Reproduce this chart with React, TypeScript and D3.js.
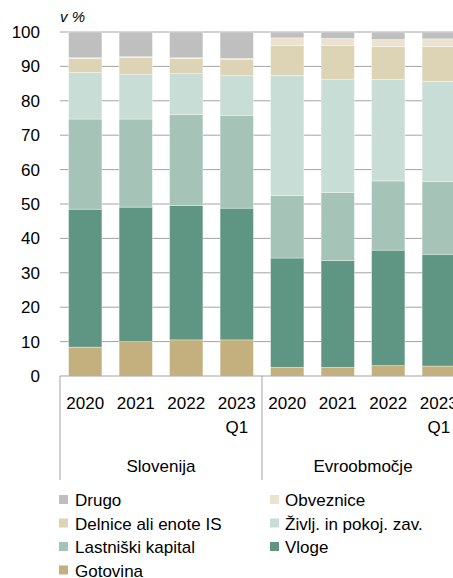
import React from "react";
import * as d3 from "d3";

const categories = ["2020", "2021", "2022", "2023", "2020", "2021", "2022", "2023"];
const subLabels = ["", "", "", "Q1", "", "", "", "Q1"];
const groups = ["Slovenija", "Evroobmočje"];
const seriesNames = ["Gotovina", "Vloge", "Lastniški kapital", "Življ. in pokoj. zav.", "Delnice ali enote IS", "Obveznice", "Drugo"];
const seriesColors = ["#c4b07e", "#5f9683", "#a6c3b8", "#c8ddd6", "#ddd3b5", "#ebe3d0", "#bfbfbf"];

const gotovina = [8.4, 10.0, 10.5, 10.5, 2.5, 2.5, 3.0, 2.9];
const vloge = [40.1, 39.1, 39.1, 38.3, 31.8, 31.1, 33.6, 32.5];
const lastniski = [26.2, 25.6, 26.4, 27.0, 18.1, 19.7, 20.1, 21.1];
const zivlj = [13.5, 12.9, 11.9, 11.5, 35.0, 33.0, 29.5, 29.2];
const delnice = [4.1, 5.0, 4.4, 4.8, 8.6, 9.7, 9.6, 10.1];
const obveznice = [0.2, 0.2, 0.2, 0.2, 2.3, 2.1, 2.0, 2.2];
const drugo = [7.5, 7.2, 7.5, 7.7, 1.7, 1.9, 2.2, 2.0];

const yTicks = [0, 10, 20, 30, 40, 50, 60, 70, 80, 90, 100];

const seriesValues = [gotovina, vloge, lastniski, zivlj, delnice, obveznice, drugo];

const legendOrder = [
  [6, 5],
  [4, 3],
  [2, 1],
  [0, -1],
];

export default function App() {
  const W = 453, H = 578;
  const x0 = 60, band = 50.5;
  const x = d3.scaleBand<number>().domain(d3.range(categories.length)).range([x0, x0 + band * categories.length]).paddingInner(0.34).paddingOuter(0.17);
  const y = d3.scaleLinear().domain([0, 100]).range([376, 32]);

  const rows = categories.map((_, i) => {
    const o: any = { i };
    seriesNames.forEach((n, s) => (o[n] = seriesValues[s][i]));
    return o;
  });
  const stack = d3.stack<any>().keys(seriesNames)(rows);
  const font = "'Liberation Sans', Arial, sans-serif";
  const bottom = y(0);
  const groupEdges = [x0, x0 + band * 4, x0 + band * 8];

  return (
    <svg width={W} height={H} style={{ position: "absolute", left: 0, top: 0 }} fontFamily={font}>
      <rect width={W} height={H} fill="#fff" />
      <text x={60} y={22} fontSize={15} fontStyle="italic" fill="#000">v %</text>
      {yTicks.map((t) => (
        <g key={t}>
          {t > 0 && <line x1={x0} x2={W} y1={y(t)} y2={y(t)} stroke="#a3a3a3" strokeWidth={1} />}
          <text x={40} y={y(t) + 6} fontSize={17} textAnchor="end" fill="#000">{t}</text>
        </g>
      ))}
      {stack.map((layer, s) => (
        <g key={s}>
          {layer.map((d, i) => (
            <rect key={i} x={x(i)} width={x.bandwidth()} y={y(d[1])} height={y(d[0]) - y(d[1])} fill={seriesColors[s]} stroke="#ffffff" strokeWidth={0.5} strokeOpacity={0.7} />
          ))}
        </g>
      ))}
      <line x1={x0} x2={W} y1={bottom} y2={bottom} stroke="#a3a3a3" strokeWidth={1} />
      {groupEdges.slice(0, 2).map((gx, k) => (
        <line key={k} x1={gx} x2={gx} y1={bottom} y2={480} stroke="#a3a3a3" strokeWidth={1} />
      ))}
      {categories.map((c, i) => (
        <g key={i}>
          <text x={(x(i) as number) + x.bandwidth() / 2} y={409} fontSize={17} textAnchor="middle" fill="#000">{c}</text>
          {subLabels[i] && <text x={(x(i) as number) + x.bandwidth() / 2} y={433} fontSize={17} textAnchor="middle" fill="#000">{subLabels[i]}</text>}
        </g>
      ))}
      {groups.map((g, k) => (
        <text key={g} x={(groupEdges[k] + groupEdges[k + 1]) / 2} y={472} fontSize={17} textAnchor="middle" fill="#000">{g}</text>
      ))}
      {legendOrder.map((row, r) =>
        row.map((s, c) =>
          s < 0 ? null : (
            <g key={`${r}-${c}`}>
              <rect x={c === 0 ? 59 : 270} y={495 + r * 23.5} width={9} height={9} fill={seriesColors[s]} />
              <text x={c === 0 ? 75 : 285} y={506 + r * 23.5} fontSize={17} fill="#000">{seriesNames[s]}</text>
            </g>
          )
        )
      )}
    </svg>
  );
}
